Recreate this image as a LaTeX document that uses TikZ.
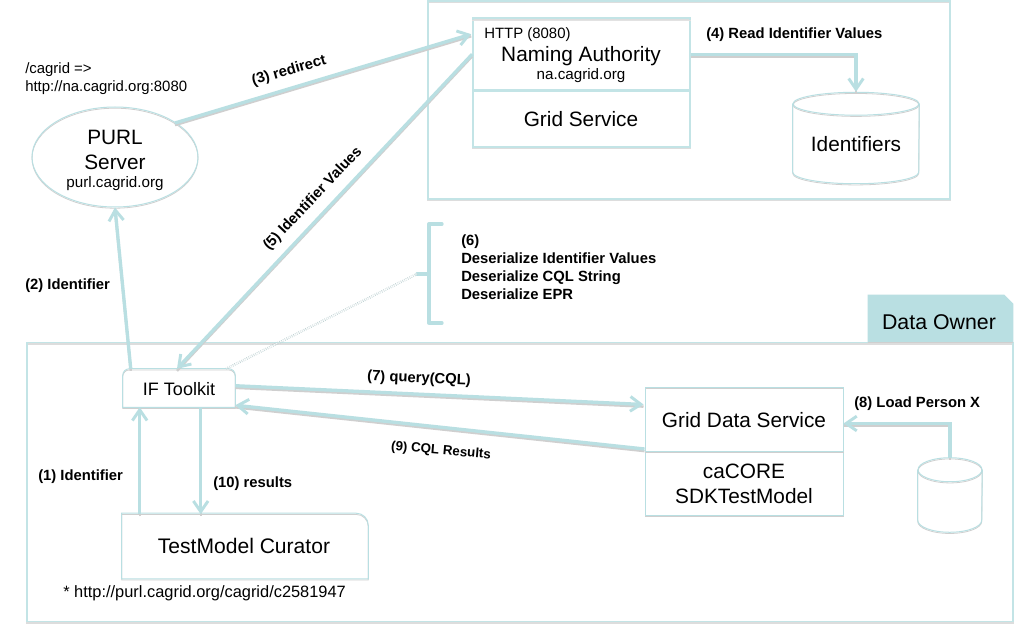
\documentclass[tikz,border=0pt]{standalone}
\usepackage{fontspec}
\setmainfont{Liberation Sans}
\usetikzlibrary{arrows.meta,calc,shapes.geometric}
\definecolor{tealc}{HTML}{B9DFE2}
\definecolor{shadc}{HTML}{CFCFCF}
\tikzset{
  x=0.75pt,y=-0.75pt,
  sz/.style 2 args={minimum width=#1*0.75pt,minimum height=#2*0.75pt,inner sep=0pt},
  ln/.style={draw=tealc,line width=.75pt,preaction={draw=shadc,line width=.6pt,transform canvas={yshift=-.9pt}}},
  frameline/.style={draw=tealc!85,line width=1.2pt,preaction={draw=shadc!70,line width=1pt,transform canvas={yshift=-1pt}}},
  arr/.style={draw=tealc,line width=2.5pt,-{Straight Barb[length=8pt,width=11pt,line width=2.2pt]},
     preaction={draw=shadc,line width=1.8pt,-,transform canvas={yshift=-1.6pt}}},
  bk/.style={draw=tealc,line width=2.5pt,line cap=round},
  big/.style={font=\fontsize{15.6}{18}\selectfont,inner sep=0pt,align=center},
  med/.style={font=\fontsize{11.4}{13}\selectfont,inner sep=0pt,align=center},
  plain/.style={font=\fontsize{11.2}{13.5}\selectfont,inner sep=0pt,anchor=west,align=left},
  lbl/.style={font=\fontsize{11.1}{13.5}\selectfont\bfseries,inner sep=0pt,anchor=west,align=left},
  clbl/.style={font=\fontsize{11.1}{12}\selectfont\bfseries,inner sep=0pt},
}
\begin{document}
\begin{tikzpicture}
\useasboundingbox (0,0) rectangle (1036,631);
\fill[white] (0,0) rectangle (1036,631);

% frames
\node[sz={522}{198},frameline] (naframe) at (689,100) {};
\node[sz={986}{279},frameline] (owner) at (520,482) {};
% data owner tab
\node[sz={145}{47}] (tab) at (940.5,318.5) {};
\fill[tealc] (tab.south west) -- (tab.north west) -- ($(tab.north east)+(-9,0)$) -- ($(tab.north east)+(0,9)$) -- (tab.south east) -- cycle;
\draw[shadc,line width=1pt] (tab.south west) -- (tab.south east);
\node[big,font=\fontsize{16}{18}\selectfont] (tabtext) at (939,322) {Data Owner};

% naming authority
\node[sz={217}{129},frameline] (na) at (581.5,82.5) {};
\coordinate (nadivL) at ($(na.north west)+(0,73)$);
\coordinate (nadivR) at ($(na.north east)+(0,73)$);
\draw[frameline,line width=2.2pt] (nadivL) -- (nadivR);
\draw[shadc!60,line width=.6pt] ($(na.north west)+(0,3)$) -- ($(na.north east)+(0,3)$);
\node[plain] (http) at (484,34.5) {HTTP (8080)};
\node[big] (natext) at (581,56.5) {Naming Authority};
\node[med] (nahost) at (581,76) {na.cagrid.org};
\node[big] (gridtext) at (581,119) {Grid Service};

% identifiers cylinder
\node[sz={126}{68}] (ids) at (856,138) {};
\draw[ln] (ids.north) ellipse [x radius=47.25pt,y radius=8.6pt];
\draw[ln] (ids.north west) -- (ids.south west) arc[start angle=180,end angle=360,x radius=47.25pt,y radius=8.6pt] -- (ids.north east);
\coordinate (idstop) at ($(ids.north)+(0,-12)$);
\node[big] (idstext) at (856,144) {Identifiers};

% PURL
\node[draw,ellipse,sz={166}{100},ln] (purl) at (115,157) {};
\node[big] (purlt) at (115,137) {PURL};
\node[big] (servert) at (115,162) {Server};
\node[med] (purlh) at (115,184) {purl.cagrid.org};
\node[plain] (cag1) at (25,70) {/cagrid =>};
\node[plain] (cag2) at (25,88) {http://na.cagrid.org:8080};

% IF toolkit
\node[sz={112}{38}] (ift) at (179,388) {};
\draw[ln] (ift.south west) [rounded corners=5pt] -- (ift.north west) -- (ift.north east) [sharp corners] -- (ift.south east) -- cycle;
\node[font=\fontsize{13.5}{15}\selectfont,inner sep=0pt] (iftext) at (179,389) {IF Toolkit};

% curator
\node[sz={246}{65}] (cur) at (245,546) {};
\draw[ln] (cur.south west) -- (cur.north west) [rounded corners=9pt] -- (cur.north east) [sharp corners] -- (cur.south east) -- cycle;
\node[big,font=\fontsize{15.8}{18}\selectfont] (curtext) at (244,546) {TestModel Curator};
\node[plain,font=\fontsize{12.3}{14}\selectfont] (foot) at (63,593) {* http://purl.cagrid.org/cagrid/c2581947};

% grid data service
\node[sz={198}{128},ln] (gds) at (744,451) {};
\draw[ln] (gds.west) -- (gds.east);
\node[big] (gdst) at (744,420) {Grid Data Service};
\node[big] (cacore) at (744,471) {caCORE};
\node[big] (sdk) at (744,496) {SDKTestModel};

% small cylinder
\node[sz={64}{50}] (db) at (950,495) {};
\draw[ln] (db.north) ellipse [x radius=24pt,y radius=9pt];
\draw[ln] (db.north west) -- (db.south west) arc[start angle=180,end angle=360,x radius=24pt,y radius=9pt] -- (db.north east);
\coordinate (dbtop) at ($(db.north)+(0,-12)$);

% bracket
\coordinate (brtop) at (442,224);
\coordinate (brbot) at (442,323);
\coordinate (brtip) at (417,274);
\draw[bk,line join=round] (brtop) -- ($(brtop)+(-13,0)$) -- ($(brbot)+(-13,0)$) -- (brbot);
\draw[bk] (brtip) -- ($(brtop)+(-13,50)$);
\draw[draw=tealc!70!gray,line width=.45pt,double=white,double distance=.9pt,densely dotted] (brtip) -- ($(ift.north east)+(-9,0)$);
\node[lbl] (six) at (461,267) {(6)\\Deserialize Identifier Values\\Deserialize CQL String\\Deserialize EPR};

% arrows
\draw[arr] ($(purl.center)+(60,-34)$) -- ($(na.north west)+(-1,17)$);
\draw[arr] ($(na.north west)+(0,37)$) -- ($(ift.north)+(-2,0)$);
\draw[arr] ($(ift.north west)+(8,0)$) -- (purl.south);
\draw[arr] ($(na.north east)+(0,37)$) -| (idstop);
\draw[arr] ($(cur.north west)+(18,1)$) -- ($(ift.south west)+(17,0)$);
\draw[arr] ($(ift.south west)+(78,0)$) -- ($(cur.north west)+(79,1)$);
\draw[arr] ($(ift.north east)+(0,17)$) -- ($(gds.north west)+(-1,18)$);
\draw[arr] ($(gds.west)+(0,-2)$) -- ($(ift.south east)+(0,-2)$);
\draw[arr] (dbtop) |- ($(gds.north east)+(0,37)$);

% labels
\node[clbl,rotate=16] (l3) at (289,71) {(3) redirect};
\node[clbl,rotate=46.5] (l5) at (313,199) {(5) Identifier Values};
\node[lbl] (l2) at (25,286) {(2) Identifier};
\node[lbl] (l4) at (706,35) {(4) Read Identifier Values};
\node[lbl] (l1) at (38,477) {(1) Identifier};
\node[lbl] (l10) at (213,484) {(10) results};
\node[clbl,rotate=-2.5] (l7) at (419,379) {(7) query(CQL)};
\node[clbl,rotate=-5,font=\fontsize{10}{11}\selectfont\bfseries] (l9) at (441,451) {(9) CQL Results};
\node[lbl] (l8) at (854,404) {(8) Load Person X};
\end{tikzpicture}
\end{document}
